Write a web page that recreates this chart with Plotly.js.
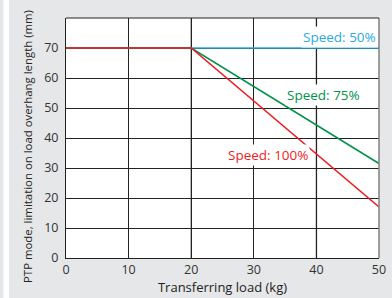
<!DOCTYPE html>
<html><head><meta charset="utf-8">
<script src="https://cdn.plot.ly/plotly-3.0.1.min.js"></script>
<style>html,body{margin:0;padding:0;background:#fff}#c{width:392px;height:298px}</style>
</head><body><div id="c"></div>
<script>
const loadKg = [0, 20, 50];
const speed50 = [70, 70, 70];
const speed75 = [70, 70, 31.5];
const speed100 = [70, 70, 17];
const xTicks = [0, 10, 20, 30, 40, 50];
const yTicks = [0, 10, 20, 30, 40, 50, 60, 70];
const labels = ["Speed: 50%", "Speed: 75%", "Speed: 100%"];
const colors = ["#29abe2", "#00924a", "#ed1c24"];
const yTitle = "PTP mode, limitation on load overhang length (mm)";
const xTitle = "Transferring load (kg)";

const font = "Open Sans, Noto Sans, sans-serif";
const traces = [
  {x: loadKg, y: speed50, mode: "lines", line: {color: colors[0], width: 1.6}},
  {x: loadKg, y: speed75, mode: "lines", line: {color: colors[1], width: 1.6}},
  {x: loadKg, y: speed100, mode: "lines", line: {color: colors[2], width: 1.6}}
];
const layout = {
  width: 392, height: 298,
  margin: {l: 66, r: 13, t: 18, b: 40},
  paper_bgcolor: "#e6e7e8", plot_bgcolor: "#ffffff",
  showlegend: false,
  font: {family: font, size: 12.5, color: "#333"},
  xaxis: {range: [0, 50], tickvals: xTicks, ticks: "", showgrid: true, gridcolor: "#222", gridwidth: 1,
    zeroline: false, showline: true, linecolor: "#222", linewidth: 1, mirror: false, fixedrange: true,
    title: {text: xTitle, font: {size: 13, color: "#222"}, standoff: 4}},
  yaxis: {range: [0, 80], tickvals: yTicks, ticks: "", showgrid: true, gridcolor: "#222", gridwidth: 1,
    zeroline: false, showline: true, linecolor: "#222", linewidth: 1, fixedrange: true, ticklabelstandoff: 4},
  shapes: [
    {type: "line", xref: "x", yref: "paper", x0: 20, x1: 20, y0: 0, y1: 1, line: {color: "#808080", width: 1.5}, layer: "below"},
    {type: "line", xref: "x", yref: "paper", x0: 40, x1: 40, y0: 0, y1: 1, line: {color: "#808080", width: 1.5}, layer: "below"},
    {type: "line", xref: "paper", yref: "paper", x0: 1, x1: 1, y0: 0, y1: 1, line: {color: "#808080", width: 1.5}},
    {type: "line", xref: "paper", yref: "paper", x0: 0, x1: 1, y0: 1, y1: 1, line: {color: "#222", width: 1}},
    {type: "rect", xref: "paper", yref: "paper", x0: -0.2, x1: -0.1823, y0: -0.2, y1: 1.1, line: {width: 0}, fillcolor: "#fff", layer: "below"}
  ],
  annotations: [
    {x: 49.8, y: 73.7, xanchor: "right", yanchor: "middle", text: labels[0], showarrow: false, font: {color: colors[0], size: 13.5}, bgcolor: "#fff"},
    {x: 41.1, y: 54.3, xanchor: "center", yanchor: "middle", text: labels[1], showarrow: false, font: {color: colors[1], size: 13.5}, bgcolor: "#fff"},
    {x: 32.3, y: 34.4, xanchor: "center", yanchor: "middle", text: labels[2], showarrow: false, font: {color: colors[2], size: 13.5}, bgcolor: "#fff"},
    {xref: "paper", yref: "paper", x: -0.1246, y: 0.4625, xanchor: "center", yanchor: "middle", textangle: -90,
      text: yTitle, showarrow: false, font: {size: 11.4, color: "#222"}}
  ]
};
Plotly.newPlot("c", traces, layout, {displayModeBar: false, staticPlot: true});
</script></body></html>
